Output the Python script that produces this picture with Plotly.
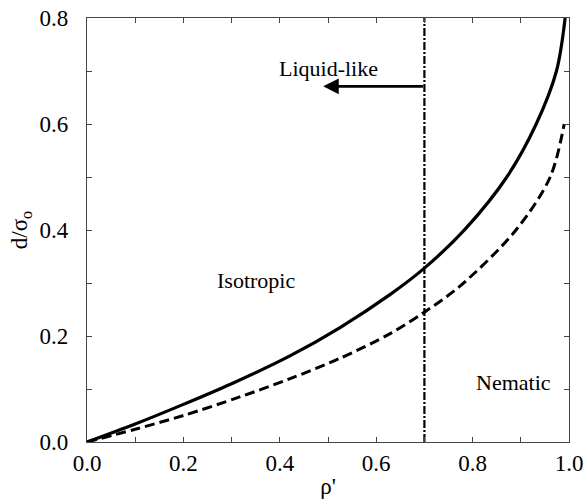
import plotly.graph_objects as go

# Solid curve (upper boundary)
solid_x = [0.0, 0.1, 0.2, 0.3, 0.42, 0.525, 0.63, 0.70, 0.785, 0.871, 0.932, 0.974, 0.992]
solid_y = [0.0, 0.034, 0.071, 0.11, 0.162, 0.216, 0.279, 0.328, 0.402, 0.50, 0.60, 0.70, 0.80]

# Dashed curve (lower boundary)
dash_x = [0.0, 0.1, 0.2, 0.317, 0.42, 0.525, 0.63, 0.70, 0.775, 0.89, 0.961, 0.990]
dash_y = [0.0, 0.024, 0.05, 0.085, 0.119, 0.158, 0.205, 0.245, 0.295, 0.40, 0.50, 0.60]

# Vertical liquid-like boundary
vline_x = [0.7, 0.7]
vline_y = [0.0, 0.8]

# Arrow
arrow_from = (0.7, 0.671)
arrow_to = (0.49, 0.671)

FONT = "Liberation Serif"

fig = go.Figure()
fig.add_trace(go.Scatter(x=solid_x, y=solid_y, mode="lines",
                         line=dict(color="black", width=3.2, shape="spline", smoothing=0.9),
                         showlegend=False, hoverinfo="skip"))
fig.add_trace(go.Scatter(x=dash_x, y=dash_y, mode="lines",
                         line=dict(color="black", width=3, dash="10px,5px", shape="spline", smoothing=0.9),
                         showlegend=False, hoverinfo="skip"))
fig.add_trace(go.Scatter(x=vline_x, y=vline_y, mode="lines",
                         line=dict(color="black", width=2.2, dash="8px,2px,2px,2px"),
                         showlegend=False, hoverinfo="skip"))

fig.add_annotation(x=arrow_to[0], y=arrow_to[1], ax=arrow_from[0], ay=arrow_from[1],
                   xref="x", yref="y", axref="x", ayref="y", text="",
                   showarrow=True, arrowhead=2, arrowsize=1.2, arrowwidth=2.6, arrowcolor="black")
fig.add_annotation(x=0.50, y=0.705, xref="x", yref="y", text="Liquid-like", showarrow=False,
                   font=dict(family=FONT, size=22, color="black"))
fig.add_annotation(x=0.35, y=0.305, xref="x", yref="y", text="Isotropic", showarrow=False,
                   font=dict(family=FONT, size=22, color="black"))
fig.add_annotation(x=0.885, y=0.112, xref="x", yref="y", text="Nematic", showarrow=False,
                   font=dict(family=FONT, size=22, color="black"))

axis_common = dict(
    showgrid=False, zeroline=False, showline=True, linecolor="#444", linewidth=1.2,
    mirror="ticks", ticks="inside", ticklen=5, tickwidth=1, tickcolor="#444",
    tickfont=dict(family=FONT, size=23, color="black"), automargin=False,
    minor=dict(ticks="inside", ticklen=5, tickwidth=1, tickcolor="#444", dtick=0.1),
)

fig.update_xaxes(range=[0, 1.0], dtick=0.2, tickformat=".1f",
                 title=dict(text="ρ'", font=dict(family=FONT, size=23, color="black"), standoff=3),
                 **axis_common)
fig.update_yaxes(range=[0, 0.8], dtick=0.2, tickformat=".1f",
                 title=dict(text="d/σ<sub>o</sub>", font=dict(family=FONT, size=23, color="black"), standoff=5),
                 ticklabelstandoff=13, **axis_common)

fig.update_layout(width=587, height=503, margin=dict(l=87, r=18, t=18, b=61),
                  font=dict(family=FONT, color="black"),
                  plot_bgcolor="white", paper_bgcolor="white")

fig.write_html("out.html")
